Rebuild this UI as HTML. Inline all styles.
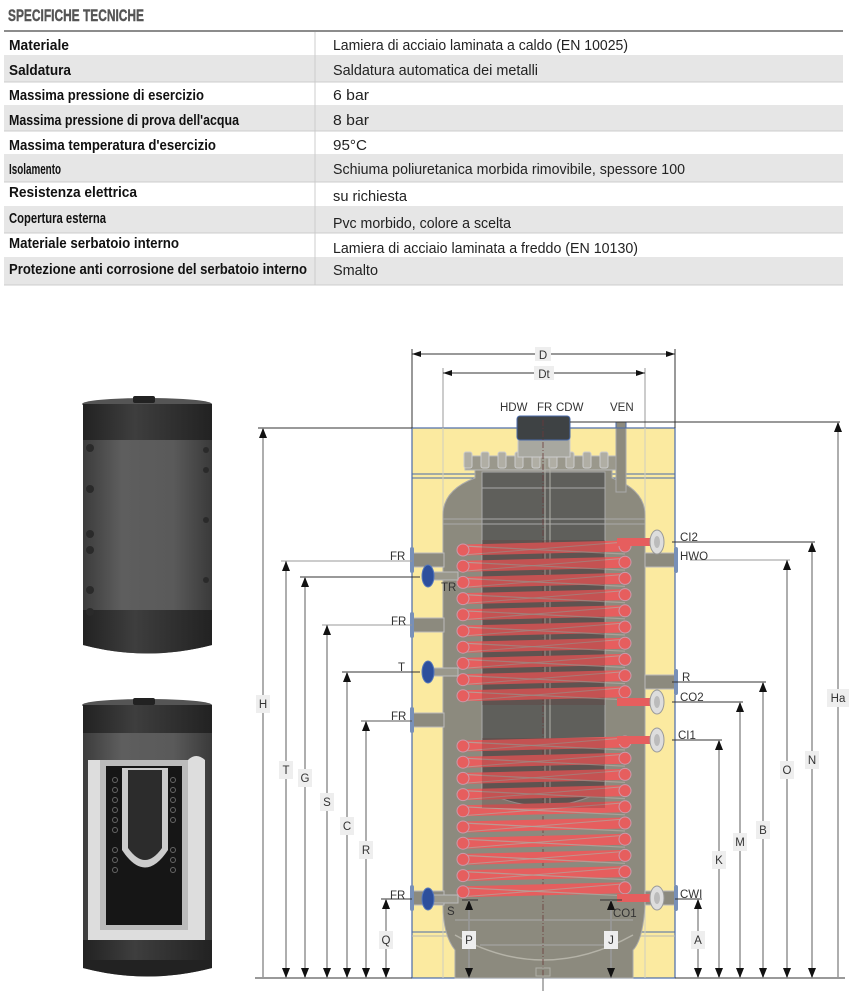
<!DOCTYPE html>
<html><head><meta charset="utf-8"><style>
html,body{margin:0;padding:0;background:#fff;width:857px;height:991px;overflow:hidden}
svg{display:block}
.tl{font-family:"Liberation Sans Narrow","Liberation Sans",sans-serif;font-weight:bold;font-size:14.5px;fill:#111}
.tr{font-family:"Liberation Sans Narrow","Liberation Sans",sans-serif;font-size:14.5px;fill:#222}
.lb{font-family:"Liberation Sans",sans-serif;font-size:11.5px;fill:#333}
.kl{stroke:#333;stroke-width:1;fill:none}
</style></head><body>
<svg id="s" width="857" height="991" viewBox="0 0 857 991" xmlns="http://www.w3.org/2000/svg">
<defs>
<linearGradient id="cyl" x1="0" x2="1"><stop offset="0" stop-color="#3c3c3c"/><stop offset=".3" stop-color="#5e5e5e"/><stop offset=".7" stop-color="#5a5a5a"/><stop offset="1" stop-color="#3a3a3a"/></linearGradient>
<linearGradient id="cyld" x1="0" x2="1"><stop offset="0" stop-color="#222"/><stop offset=".4" stop-color="#3e3e3e"/><stop offset="1" stop-color="#222"/></linearGradient>
</defs>
<text x="8" y="21" font-family="Liberation Sans Narrow,Liberation Sans,sans-serif" font-weight="bold" font-size="17" fill="#555" stroke="#555" stroke-width="0.4" textLength="136" lengthAdjust="spacingAndGlyphs">SPECIFICHE TECNICHE</text>
<line x1="4" y1="31" x2="843" y2="31" stroke="#666" stroke-width="1.5"/>
<g id="tbl"></g>
<line x1="315" y1="32" x2="315" y2="285" stroke="#ccc" stroke-width="1"/>

<g>
<path d="M83,404 L83,645 Q147,662 212,645 L212,404 Z" fill="url(#cyl)"/>
<ellipse cx="147" cy="404" rx="65" ry="6" fill="#555"/>
<rect x="83" y="404" width="129" height="36" fill="url(#cyld)"/>
<path d="M83,610 L212,610 L212,645 Q147,662 83,645Z" fill="url(#cyld)"/>
<rect x="133" y="396" width="22" height="7" rx="2" fill="#222"/>
<g fill="#2a2a2a"><circle cx="90" cy="448" r="4"/><circle cx="90" cy="489" r="4"/><circle cx="90" cy="534" r="4"/><circle cx="90" cy="550" r="4"/><circle cx="90" cy="590" r="4"/><circle cx="90" cy="612" r="4"/><circle cx="206" cy="450" r="3"/><circle cx="206" cy="470" r="3"/><circle cx="206" cy="520" r="3"/><circle cx="206" cy="580" r="3"/></g>

<path d="M83,705 L83,968 Q147,985 212,968 L212,705 Z" fill="url(#cyl)"/>
<ellipse cx="147" cy="705" rx="65" ry="6" fill="#555"/>
<rect x="83" y="705" width="129" height="28" fill="url(#cyld)"/>
<rect x="133" y="698" width="22" height="7" rx="2" fill="#222"/>
<path d="M88,760 L88,940 L205,940 L205,760 Q196,752 188,760 L188,930 L100,930 L100,760 Z" fill="#ddd"/>
<path d="M100,760 L188,760 L188,930 L100,930Z" fill="#bbb"/>
<path d="M106,766 L182,766 L182,925 L106,925Z" fill="#161616"/>
<path d="M122,768 L168,768 L168,850 Q145,885 122,850Z" fill="#ccc"/>
<path d="M128,770 L162,770 L162,848 Q145,872 128,848Z" fill="#2c2c2c"/>
<g fill="none" stroke="#666" stroke-width="1"><circle cx="115" cy="780" r="2.5"/><circle cx="115" cy="790" r="2.5"/><circle cx="115" cy="800" r="2.5"/><circle cx="115" cy="810" r="2.5"/><circle cx="115" cy="820" r="2.5"/><circle cx="115" cy="830" r="2.5"/><circle cx="115" cy="850" r="2.5"/><circle cx="115" cy="860" r="2.5"/><circle cx="115" cy="870" r="2.5"/><circle cx="173" cy="780" r="2.5"/><circle cx="173" cy="790" r="2.5"/><circle cx="173" cy="800" r="2.5"/><circle cx="173" cy="810" r="2.5"/><circle cx="173" cy="820" r="2.5"/><circle cx="173" cy="850" r="2.5"/><circle cx="173" cy="860" r="2.5"/><circle cx="173" cy="870" r="2.5"/></g>
<rect x="83" y="940" width="129" height="28" fill="url(#cyld)"/>
<path d="M83,968 Q147,985 212,968 L212,960 L83,960Z" fill="#222"/>
</g>

<rect x="412" y="428" width="263" height="550" fill="#fbeaa0" stroke="#4a6aa8" stroke-width="1.2"/>
<line x1="412" y1="474" x2="675" y2="474" stroke="#4a6aa8"/><line x1="412" y1="478" x2="675" y2="478" stroke="#4a6aa8"/>
<line x1="412" y1="932" x2="675" y2="932" stroke="#4a6aa8"/><line x1="412" y1="936" x2="675" y2="936" stroke="#b8b8b0"/>
<line x1="443" y1="428" x2="443" y2="978" stroke="#cfcfc0"/><line x1="645" y1="428" x2="645" y2="978" stroke="#cfcfc0"/>
<path d="M475,468 L612,468 L612,478 Q645,490 645,515 L645,905 Q643,940 633,950 L633,978 L455,978 L455,950 Q443,935 443,905 L443,515 Q443,490 475,478 Z" fill="#8c8a7e" stroke="#aaa" stroke-width="1"/>
<path d="M455,935 Q543,985 633,935" fill="none" stroke="#b5b3a8" stroke-width="1.5"/>
<path d="M482,472 L605,472 L605,790 Q543,822 482,790 Z" fill="#5f5f5b" stroke="#aaa" stroke-width="1"/>
<g stroke="#aaa" stroke-width="1"><line x1="443" y1="524" x2="645" y2="524"/><line x1="443" y1="519" x2="645" y2="519"/><line x1="482" y1="488" x2="605" y2="488"/><line x1="455" y1="920" x2="633" y2="920"/><line x1="480" y1="945" x2="610" y2="945"/></g>
<rect x="465" y="456" width="155" height="14" fill="#9a988c" stroke="#bbb"/>
<g id="bolts"></g>
<rect x="518" y="439" width="52" height="18" fill="#a8a8a0" stroke="#ccc"/>
<rect x="517" y="416" width="53" height="24" rx="3" fill="#3e4244" stroke="#4a6aa8"/>
<rect x="616" y="422" width="10" height="70" fill="#8c8a7e" stroke="#aaa"/>
<rect x="616" y="422" width="10" height="6" fill="#8c8a7e" stroke="#4a6aa8"/>
<line x1="543" y1="420" x2="543" y2="985" stroke="#6a3a3a" stroke-dasharray="6,2,1,2" stroke-width="0.8"/>
<rect x="545" y="458" width="5" height="350" fill="none" stroke="#b0b0a8"/>
<rect x="536" y="968" width="14" height="8" fill="none" stroke="#b0b0a8"/>
<g id="coils"></g>
<g id="fit"></g>

<g class="kl"><line x1="412" y1="349" x2="412" y2="428"/><line x1="675" y1="349" x2="675" y2="428"/>
<line x1="443" y1="368" x2="443" y2="428" stroke="#999"/><line x1="645" y1="368" x2="645" y2="428" stroke="#999"/>
<line x1="412" y1="354" x2="675" y2="354"/>
<line x1="443" y1="373" x2="645" y2="373"/></g>
<path d="M412,354 l9,-3 v6z M675,354 l-9,-3 v6z M443,373 l9,-3 v6z M645,373 l-9,-3 v6z" fill="#111"/>
<rect x="535" y="347" width="16" height="14" fill="#eee"/><text x="543" y="359" class="lb" text-anchor="middle">D</text>
<rect x="534" y="366" width="20" height="14" fill="#eee"/><text x="544" y="378" class="lb" text-anchor="middle">Dt</text>
<text x="500" y="411" class="lb">HDW</text><text x="537" y="411" class="lb">FR</text><text x="556" y="411" class="lb">CDW</text><text x="610" y="411" class="lb">VEN</text>
<line x1="570" y1="422" x2="840" y2="422" stroke="#333"/>
<line x1="258" y1="428" x2="412" y2="428" stroke="#333"/>
<line x1="255" y1="978" x2="412" y2="978" stroke="#333"/><line x1="675" y1="978" x2="845" y2="978" stroke="#333"/>
<line x1="543" y1="978" x2="543" y2="991" stroke="#666"/>
<g id="dims"></g>
</svg>
<script>
var S='http://www.w3.org/2000/svg';
function el(p,t,a,txt){var e=document.createElementNS(S,t);for(var k in a)e.setAttribute(k,a[k]);if(txt)e.textContent=txt;document.getElementById(p).appendChild(e);return e;}
var rows=[["Materiale","Lamiera di acciaio laminata a caldo (EN 10025)"],["Saldatura","Saldatura automatica dei metalli"],["Massima pressione di esercizio","6 bar"],["Massima pressione di prova dell'acqua","8 bar"],["Massima temperatura d'esercizio","95°C"],["Isolamento","Schiuma poliuretanica morbida rimovibile, spessore 100"],["Resistenza elettrica","su richiesta"],["Copertura esterna","Pvc morbido, colore a scelta"],["Materiale serbatoio interno","Lamiera di acciaio laminata a freddo (EN 10130)"],["Protezione anti corrosione del serbatoio interno","Smalto"]];
var ys=[32,56,82,106,131,155,182,207,233,258,285];
var ty=[[50,50],[75,75],[100,100],[125,125],[150,150],[174,174],[197,201],[223,228],[248,253],[274,275]];
var lw=[60,62,195,230,207,52,128,97,170,298],rw=[295,205,36,36,34,352,74,178,305,45];
rows.forEach(function(r,i){
 if(i%2==1) el('tbl','rect',{x:4,y:ys[i],width:839,height:ys[i+1]-ys[i],fill:'#e6e6e6'});
 el('tbl','line',{x1:4,y1:ys[i+1],x2:843,y2:ys[i+1],stroke:'#ccc'});
 el('tbl','text',{x:9,y:ty[i][0],'class':'tl',textLength:lw[i],lengthAdjust:'spacingAndGlyphs'},r[0]);
 el('tbl','text',{x:333,y:ty[i][1],'class':'tr',textLength:rw[i],lengthAdjust:'spacingAndGlyphs'},r[1]);
});
for(var x=468;x<=622;x+=17){el('bolts','rect',{x:x-4,y:452,width:8,height:16,rx:2,fill:'#b0aea4',stroke:'#ccc'});}
function coil(y0,n){for(var i=0;i<n;i++){var y=y0+i*16.2;
 el('coils','line',{x1:463,y1:y,x2:625,y2:y-4,stroke:'#e65e5e','stroke-width':11,'stroke-linecap':'round'});
 el('coils','line',{x1:463,y1:y-4,x2:625,y2:y+4,stroke:'#b0a8a0','stroke-width':1.2,opacity:.8});
 el('coils','line',{x1:463,y1:y+5,x2:625,y2:y-8,stroke:'#b0a8a0','stroke-width':1,opacity:.7});
 el('coils','circle',{cx:463,cy:y,r:6,fill:'#e65e5e',stroke:'#c9a'});
 el('coils','circle',{cx:625,cy:y-4,r:6,fill:'#e65e5e',stroke:'#c9a'});}}
coil(550,10);coil(746,10);
el('coils','rect',{x:482,y:540,width:123,height:165,fill:'#5f3030',opacity:.25});
el('coils','rect',{x:482,y:738,width:123,height:70,fill:'#5f3030',opacity:.25});
function stub(x,y,w,side){el('fit','rect',{x:x,y:y-7,width:w,height:14,fill:'#8c8a7e',stroke:'#bbb'});
 var fx=side<0?x-2:x+w-2;el('fit','rect',{x:fx,y:y-13,width:4,height:26,rx:2,fill:'#7890b8'});}
stub(412,560,32,-1);stub(412,625,32,-1);stub(412,720,32,-1);stub(412,898,32,-1);
stub(645,560,31,1);stub(645,682,31,1);stub(645,898,31,1);
function blue(cx,cy){el('fit','rect',{x:cx,y:cy-4,width:30,height:8,fill:'#9a988c',stroke:'#bbb'});el('fit','ellipse',{cx:cx,cy:cy,rx:6,ry:11,fill:'#2d4f9c',stroke:'#5577bb'});}
blue(428,576);blue(428,672);blue(428,899);
function wht(cx,cy){el('fit','rect',{x:cx-40,y:cy-4,width:40,height:8,fill:'#e65e5e'});el('fit','ellipse',{cx:cx,cy:cy,rx:7,ry:12,fill:'#ddd',stroke:'#999'});el('fit','ellipse',{cx:cx,cy:cy,rx:3,ry:6,fill:'#bbb'});}
wht(657,542);wht(657,702);wht(657,740);wht(657,898);
function lab(x,y,t){var w=t.length*8+6;el('dims','rect',{x:x-w/2,y:y-9,width:w,height:18,fill:'#eee'});el('dims','text',{x:x,y:y+4,'class':'lb','text-anchor':'middle'},t);}
function vdim(x,top,ly,t,hx1,hx2,col){el('dims','line',{x1:hx1,y1:top,x2:hx2,y2:top,stroke:col||'#333'});
 el('dims','line',{x1:x,y1:top,x2:x,y2:978,stroke:'#999','stroke-width':1.6});
 el('dims','path',{d:'M'+x+','+top+' l-4,10 h8z',fill:'#111'});if(top>440)el('dims','path',{d:'M'+x+',978 l-4,-10 h8z',fill:'#111'});lab(x,ly,t);}
vdim(263,428,704,'H',258,263);
vdim(286,561,770,'T',281,412,'#999');
vdim(305,577,778,'G',300,420);
vdim(327,625,802,'S',322,412,'#999');
vdim(347,672,826,'C',342,420);
vdim(366,721,850,'R',361,412,'#555');
vdim(386,899,940,'Q',381,412);
vdim(838,422,698,'Ha',835,840);
vdim(812,542,760,'N',672,815);
vdim(787,560,770,'O',690,790,'#999');
vdim(763,682,830,'B',672,766);
vdim(740,702,842,'M',672,743);
vdim(719,740,860,'K',672,722);
vdim(698,899,940,'A',675,702);
vdim(469,900,940,'P',462,478);
vdim(611,900,940,'J',600,622);
function t(x,y,s){el('dims','text',{x:x,y:y,'class':'lb'},s);}
t(390,560,'FR');t(441,591,'TR');t(391,625,'FR');t(398,671,'T');t(391,720,'FR');t(390,899,'FR');t(447,915,'S');
t(680,541,'CI2');t(680,560,'HWO');t(682,681,'R');t(680,701,'CO2');t(678,739,'CI1');t(680,898,'CWI');t(613,917,'CO1');
</script>
</body></html>
